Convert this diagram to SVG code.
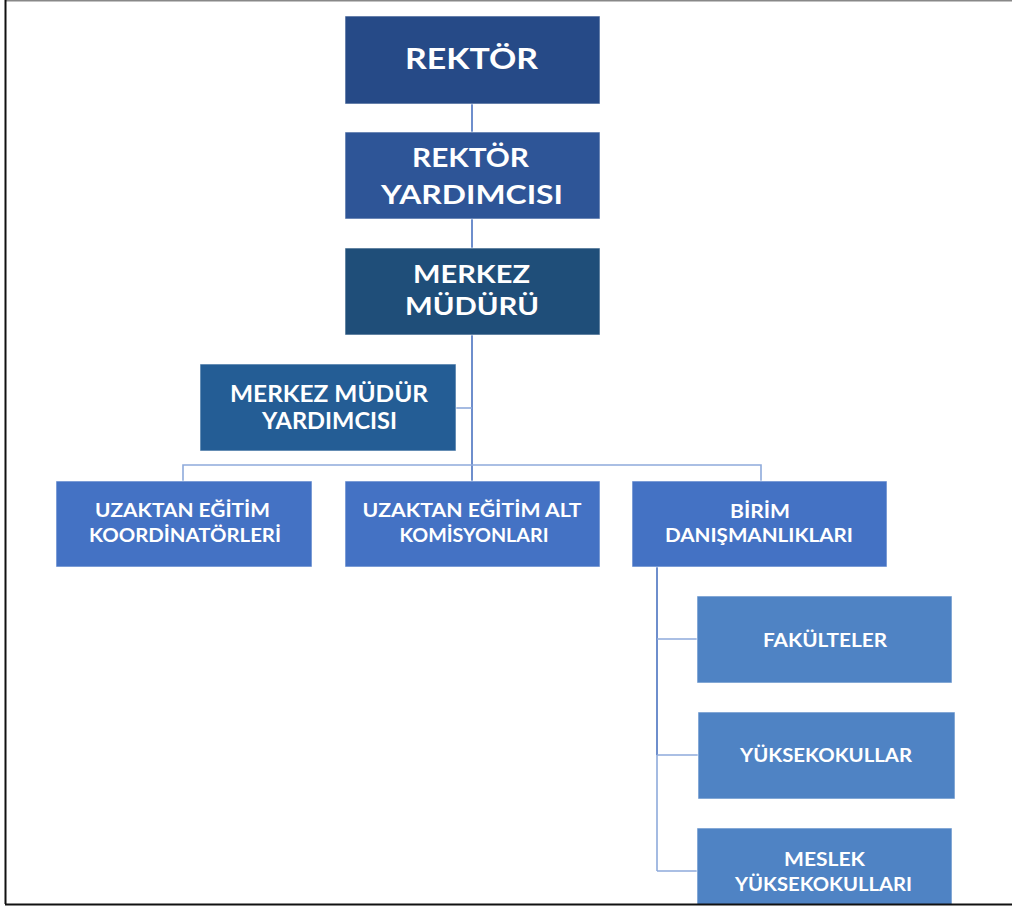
<svg xmlns="http://www.w3.org/2000/svg" width="1012" height="907" viewBox="0 0 1012 907">
<style>
.n{stroke:#ffffff;stroke-width:1;stroke-opacity:0.6}
.t{font-family:Lato,"Open Sans",sans-serif;fill:#ffffff;text-anchor:middle;font-weight:700}
.c{fill:none;stroke:#4a72c0;stroke-width:1.6}
.c2{fill:none;stroke:#8eaadb;stroke-width:1.6}
</style>
<rect x="0" y="0" width="1012" height="907" fill="#ffffff"/>
<line x1="5" y1="0.8" x2="1012" y2="0.8" stroke="#888888" stroke-width="1.6"/>
<line x1="5.5" y1="0" x2="5.5" y2="905" stroke="#111111" stroke-width="2"/>
<g id="connectors">
<line class="c" x1="472" y1="104" x2="472" y2="481"/>
<line class="c2" x1="456" y1="408" x2="472" y2="408"/>
<polyline class="c2" points="183,481 183,465 761,465 761,481"/>
<line class="c" x1="657" y1="567" x2="657" y2="755"/>
<line class="c2" x1="657" y1="755" x2="657" y2="871"/>
<line class="c2" x1="657" y1="639" x2="697" y2="639"/>
<line class="c2" x1="657" y1="755" x2="698" y2="755"/>
<line class="c2" x1="657" y1="871" x2="697" y2="871"/>
</g>
<g id="rektor">
<rect class="n" x="345" y="16" width="255" height="88" fill="#264a87"/>
<text class="t" x="471.5" y="69" font-size="29" textLength="133" lengthAdjust="spacingAndGlyphs">REKTÖR</text>
</g>
<g id="rektor-yardimcisi">
<rect class="n" x="345" y="132" width="255" height="87" fill="#2e5597"/>
<text class="t" x="470.5" y="167" font-size="26" textLength="117" lengthAdjust="spacingAndGlyphs">REKTÖR</text>
<text class="t" x="472" y="204" font-size="26" textLength="182" lengthAdjust="spacingAndGlyphs">YARDIMCISI</text>
</g>
<g id="merkez-muduru">
<rect class="n" x="345" y="248" width="255" height="87" fill="#1f4e79"/>
<text class="t" x="471.5" y="283" font-size="25" textLength="117" lengthAdjust="spacingAndGlyphs">MERKEZ</text>
<text class="t" x="472" y="315" font-size="25" textLength="134" lengthAdjust="spacingAndGlyphs">MÜDÜRÜ</text>
</g>
<g id="merkez-mudur-yardimcisi">
<rect class="n" x="200" y="364" width="256" height="87" fill="#245d95"/>
<text class="t" x="329" y="402" font-size="22" textLength="198" lengthAdjust="spacingAndGlyphs">MERKEZ MÜDÜR</text>
<text class="t" x="329.5" y="429" font-size="22" textLength="135" lengthAdjust="spacingAndGlyphs">YARDIMCISI</text>
</g>
<g id="koordinatorleri">
<rect class="n" x="56" y="481" width="256" height="86" fill="#4472c4"/>
<text class="t" x="182.5" y="517" font-size="19" textLength="175" lengthAdjust="spacingAndGlyphs">UZAKTAN EĞİTİM</text>
<text class="t" x="185" y="542" font-size="19" textLength="192" lengthAdjust="spacingAndGlyphs">KOORDİNATÖRLERİ</text>
</g>
<g id="alt-komisyonlari">
<rect class="n" x="345" y="481" width="255" height="86" fill="#4472c4"/>
<text class="t" x="472" y="517" font-size="19" textLength="219" lengthAdjust="spacingAndGlyphs">UZAKTAN EĞİTİM ALT</text>
<text class="t" x="474" y="542" font-size="19" textLength="149" lengthAdjust="spacingAndGlyphs">KOMİSYONLARI</text>
</g>
<g id="birim-danismanliklari">
<rect class="n" x="632" y="481" width="255" height="86" fill="#4472c4"/>
<text class="t" x="760" y="518" font-size="19" textLength="60" lengthAdjust="spacingAndGlyphs">BİRİM</text>
<text class="t" x="759" y="542" font-size="19" textLength="188" lengthAdjust="spacingAndGlyphs">DANIŞMANLIKLARI</text>
</g>
<g id="fakulteler">
<rect class="n" x="697" y="596" width="255" height="87" fill="#4f83c4"/>
<text class="t" x="825" y="647" font-size="19" textLength="124" lengthAdjust="spacingAndGlyphs">FAKÜLTELER</text>
</g>
<g id="yuksekokullar">
<rect class="n" x="698" y="712" width="257" height="87" fill="#4f83c4"/>
<text class="t" x="826" y="762" font-size="19" textLength="172" lengthAdjust="spacingAndGlyphs">YÜKSEKOKULLAR</text>
</g>
<g id="meslek-yuksekokullari">
<rect class="n" x="697" y="828" width="255" height="80" fill="#4f83c4"/>
<text class="t" x="824.5" y="866" font-size="19" textLength="81" lengthAdjust="spacingAndGlyphs">MESLEK</text>
<text class="t" x="823.5" y="891" font-size="19" textLength="177" lengthAdjust="spacingAndGlyphs">YÜKSEKOKULLARI</text>
</g>
<rect x="0" y="904" width="1012" height="3" fill="#ffffff"/>
<line x1="5" y1="904.5" x2="1012" y2="904.5" stroke="#111111" stroke-width="2"/>
</svg>
